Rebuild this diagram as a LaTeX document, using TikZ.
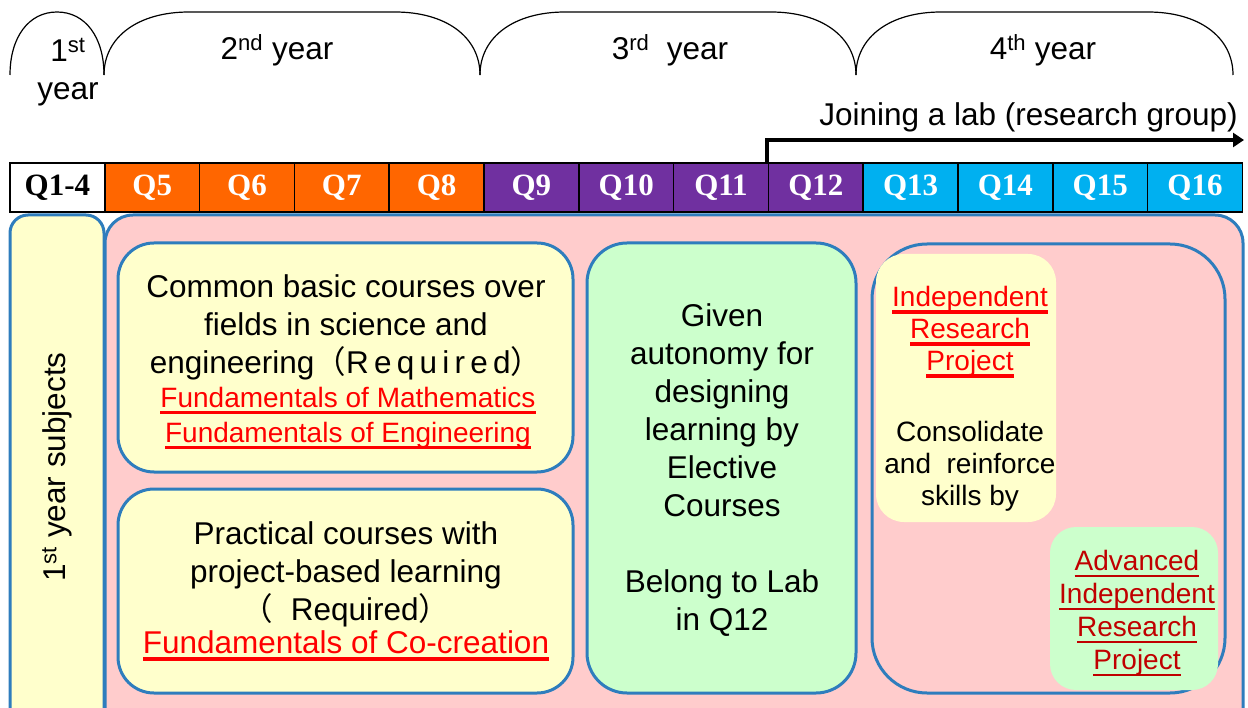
\documentclass[tikz,border=0pt]{standalone}
\usepackage{fontspec}
\setmainfont{Liberation Sans}
\newfontfamily\qfamily{Liberation Serif}
\newfontfamily\cjk{Noto Sans CJK JP}
\usepackage{graphicx}
\usetikzlibrary{arrows.meta}

\definecolor{qorange}{HTML}{FF6600}
\definecolor{qpurple}{HTML}{7030A0}
\definecolor{qcyan}{HTML}{00B0F0}
\definecolor{boxblue}{HTML}{2E7DBD}
\definecolor{paleyellow}{HTML}{FFFFCC}
\definecolor{palegreen}{HTML}{CCFFCC}
\definecolor{palepink}{HTML}{FFCCCC}
\definecolor{linkred}{HTML}{FF0000}
\definecolor{darkred}{HTML}{C00000}

% underlined course names
\newsavebox{\ulsave}
\newcommand{\ulword}[3]{{\color{#1}\sbox{\ulsave}{#3}%
  \rlap{\rule[-7pt]{\wd\ulsave}{#2}}\usebox{\ulsave}}}
\newcommand{\redul}[1]{\ulword{linkred}{3.6pt}{#1}}
\newcommand{\darkul}[1]{\ulword{darkred}{2.4pt}{#1}}

\tikzset{
  yearline/.style={draw, line width=1.2pt},
  qcell/.style={draw, line width=1.6pt, minimum width=94.8pt, minimum height=49pt,
    inner sep=0pt, font=\qfamily\bfseries\fontsize{31}{31}\selectfont},
  roundbox/.style={draw=boxblue, line width=3pt},
  big/.style={font=\fontsize{31.5}{38}\selectfont, align=center, inner sep=0pt},
  small/.style={font=\fontsize{28}{32}\selectfont, align=center, inner sep=0pt},
}

\begin{document}
\begin{tikzpicture}[x=1pt, y=-1pt]
  \useasboundingbox (0,0) rectangle (1248,708);
  \clip (0,0) rectangle (1248,708);

  % year arches
  \foreach \xa/\xb/\r in {10/104/47, 104/480/85, 480/856/85, 856/1233/85}
    \draw[yearline] (\xa,75) .. controls (\xa,37) and ({\xa+0.4*\r},12) .. ({\xa+\r},12)
      -- ({\xb-\r},12) .. controls ({\xb-0.4*\r},12) and (\xb,37) .. (\xb,75);

  \node[big] (y1a) at (68,50) {1\textsuperscript{st}};
  \node[big] (y1b) at (68,94) {year};
  \node[big] (y2) at (277,50) {2\textsuperscript{nd} year};
  \node[big] (y3) at (670,50) {3\textsuperscript{rd}\ \ year};
  \node[big] (y4) at (1043,50) {4\textsuperscript{th} year};

  % quarters
  \foreach \lab/\col/\ink [count=\i from 4] in {Q1-4/white/black,
      Q5/qorange/white, Q6/qorange/white, Q7/qorange/white, Q8/qorange/white,
      Q9/qpurple/white, Q10/qpurple/white, Q11/qpurple/white, Q12/qpurple/white,
      Q13/qcyan/white, Q14/qcyan/white, Q15/qcyan/white, Q16/qcyan/white}
    \node[qcell, fill=\col, text=\ink] (q\i) at ({57.4+(\i-4)*94.8},187.5) {\lab};

  % joining a lab
  \node[big, anchor=east] (join) at (1238,117) {Joining a lab (research group)};
  \coordinate (labend) at (1244,140);
  \draw[line width=4pt, -{Triangle[length=11pt,width=14pt]}] ([xshift=-0.2pt]q12.north west) |- (labend);

  % course areas
  \draw[roundbox, fill=paleyellow, rounded corners=18pt] (10,215) rectangle (104,740);
  \node[big, rotate=90] (subj) at (57,467) {1\textsuperscript{st} year subjects};

  \draw[roundbox, fill=palepink, rounded corners=28pt] (105,215) rectangle (1243,740);

  \node[roundbox, fill=paleyellow, rounded corners=36pt, minimum width=455pt,
    minimum height=229pt] (common) at (345.5,357.5) {};
  \node[big] (commontxt) at (346,327) {Common basic courses over\\fields in science and\\
    engineering{\cjk（}R\,e\,q\,u\,i\,r\,e\,d{\cjk）}};
  \node[small, font=\fontsize{28}{35}\selectfont] (commonred) at (348,418)
    {\redul{Fundamentals of Mathematics}\\\redul{Fundamentals of Engineering}};

  \node[roundbox, fill=paleyellow, rounded corners=36pt, minimum width=455pt,
    minimum height=204pt] (practical) at (345.5,591) {};
  \node[big] (practicaltxt) at (346,574) {Practical courses with\\project-based learning\\
    {\cjk（}\ \ Required{\cjk）}};
  \node[big] (practicalred) at (346,646) {\redul{Fundamentals of Co-creation}};

  \node[roundbox, fill=palegreen, rounded corners=40pt, minimum width=269pt,
    minimum height=450pt] (elective) at (721.5,468) {};
  \node[big] (electivetxt) at (722,470) {Given\\autonomy for\\designing\\learning by\\
    Elective\\Courses\\[38pt]Belong to Lab\\in Q12};

  \node[roundbox, fill=palepink, rounded corners=55pt, minimum width=353pt,
    minimum height=449pt] (research) at (1048.5,468.5) {};
  \node[fill=paleyellow, rounded corners=28pt, minimum width=180pt,
    minimum height=268pt] (indep) at (966,388) {};
  \node[small] (indeptxt) at (970,332) {\redul{Independent}\\\redul{Research}\\\redul{Project}};
  \node[small] (consol) at (970,466) {Consolidate\\and\ \ reinforce\\skills by};
  \node[fill=palegreen, rounded corners=26pt, minimum width=168pt,
    minimum height=163pt] (adv) at (1134,608.5) {};
  \node[small, font=\fontsize{28}{33}\selectfont] (advtxt) at (1137,613)
    {\darkul{Advanced}\\\darkul{Independent}\\\darkul{Research}\\\darkul{Project}};
\end{tikzpicture}
\end{document}
